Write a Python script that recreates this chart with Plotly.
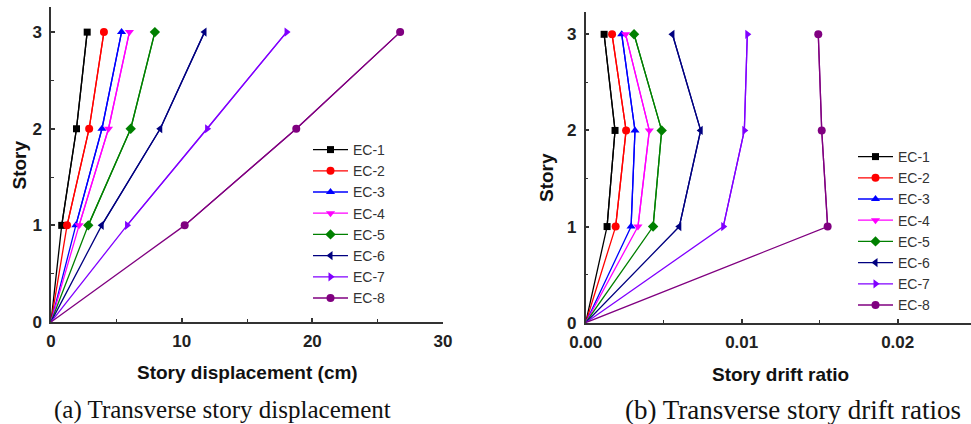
import plotly.graph_objects as go

W, H = 971, 424

stories = [0, 1, 2, 3]
series_names = ["EC-1", "EC-2", "EC-3", "EC-4", "EC-5", "EC-6", "EC-7", "EC-8"]

# (a) story displacement (cm), origin included
disp_ec1 = [0, 0.82, 1.95, 2.77]
disp_ec2 = [0, 1.23, 2.92, 4.05]
disp_ec3 = [0, 1.90, 3.90, 5.40]
disp_ec4 = [0, 2.15, 4.40, 6.00]
disp_ec5 = [0, 2.85, 6.10, 7.95]
disp_ec6 = [0, 3.88, 8.36, 11.75]
disp_ec7 = [0, 5.82, 11.95, 18.03]
disp_ec8 = [0, 10.23, 18.77, 26.72]

# (b) story drift ratio, origin included
drift_ec1 = [0, 0.00137, 0.00188, 0.00118]
drift_ec2 = [0, 0.00192, 0.00259, 0.00169]
drift_ec3 = [0, 0.00291, 0.00316, 0.00231]
drift_ec4 = [0, 0.00335, 0.00408, 0.00256]
drift_ec5 = [0, 0.00432, 0.00487, 0.00310]
drift_ec6 = [0, 0.00600, 0.00737, 0.00556]
drift_ec7 = [0, 0.00882, 0.01017, 0.01036]
drift_ec8 = [0, 0.01551, 0.01513, 0.01491]

disp_all = [disp_ec1, disp_ec2, disp_ec3, disp_ec4, disp_ec5, disp_ec6, disp_ec7, disp_ec8]
drift_all = [drift_ec1, drift_ec2, drift_ec3, drift_ec4, drift_ec5, drift_ec6, drift_ec7, drift_ec8]

colors = ["#000000", "#ff0000", "#0000ff", "#ff00ff", "#008000", "#000080", "#8000ff", "#800080"]
symbols = ["square", "circle", "triangle-up", "triangle-down", "diamond",
           "triangle-left", "triangle-right", "circle"]
msizes = [7, 8, 8, 8, 8, 8, 8, 8]

fig = go.Figure()

def add_series(xs, xa, ya, leg):
    for name, vals, c, s, ms in zip(series_names, xs, colors, symbols, msizes):
        # line from origin (no marker at origin)
        fig.add_trace(go.Scatter(x=vals, y=stories, mode="lines", xaxis=xa, yaxis=ya,
                                 line=dict(color=c, width=1.3), showlegend=False,
                                 hoverinfo="skip", cliponaxis=False))
        fig.add_trace(go.Scatter(x=vals[1:], y=stories[1:], mode="lines+markers", name=name,
                                 xaxis=xa, yaxis=ya, legend=leg,
                                 line=dict(color=c, width=1.3),
                                 marker=dict(symbol=s, size=ms, color=c, line=dict(width=0)),
                                 cliponaxis=False))

add_series(disp_all, "x", "y", "legend")
add_series(drift_all, "x2", "y2", "legend2")

def px_x(p):
    return p / W

def px_y(p):
    return (H - p) / H

tickfont = dict(family="Liberation Sans, Arial, sans-serif", size=17, color="#222", weight="bold")
axis_common = dict(showline=True, linecolor="#333", linewidth=1.5, ticks="inside",
                   ticklen=4, tickwidth=1.5, tickcolor="#333", showgrid=False,
                   zeroline=False, tickfont=tickfont, automargin=False)
minor_common = dict(ticks="inside", ticklen=3, tickcolor="#333", tickwidth=1.2)

fig.update_layout(
    width=W, height=H, margin=dict(l=0, r=0, t=0, b=0, autoexpand=False),
    paper_bgcolor="white", plot_bgcolor="white",
    xaxis=dict(domain=[px_x(51), px_x(443)], range=[0, 30], dtick=10, anchor="y",
               minor=dict(dtick=5, **minor_common), ticklabelstandoff=3, **axis_common),
    yaxis=dict(domain=[px_y(322), px_y(7)], range=[0, 3.26], dtick=1, anchor="x",
               minor=dict(dtick=0.5, **minor_common), ticklabelstandoff=4, **axis_common),
    xaxis2=dict(domain=[px_x(585.7), 1], range=[0, 0.0247], dtick=0.01, tickformat=".2f",
                anchor="y2", minor=dict(dtick=0.005, **minor_common), ticklabelstandoff=3,
                **axis_common),
    yaxis2=dict(domain=[px_y(322.7), px_y(12)], range=[0, 3.232], dtick=1, anchor="x2",
                minor=dict(dtick=0.5, **minor_common), ticklabelstandoff=4, **axis_common),
    legend=dict(x=px_x(308), y=px_y(134), xanchor="left", yanchor="top",
                font=dict(family="Liberation Sans, Arial, sans-serif", size=14, color="#333"),
                bgcolor="rgba(0,0,0,0)", itemwidth=35, tracegroupgap=0),
    legend2=dict(x=px_x(853), y=px_y(141), xanchor="left", yanchor="top",
                 font=dict(family="Liberation Sans, Arial, sans-serif", size=14, color="#333"),
                 bgcolor="rgba(0,0,0,0)", itemwidth=35, tracegroupgap=0),
)

title_font = dict(family="Liberation Sans, Arial, sans-serif", size=19, color="#111")
cap_font_a = dict(family="Liberation Serif, Times New Roman, serif", size=25, color="#111")
cap_font_b = dict(family="Liberation Serif, Times New Roman, serif", size=27, color="#111")

annots = [
    dict(text="<b>Story displacement (cm)</b>", x=px_x(247), y=px_y(372), font=title_font, textangle=0),
    dict(text="<b>Story drift ratio</b>", x=px_x(780), y=px_y(374), font=title_font, textangle=0),
    dict(text="<b>Story</b>", x=px_x(18.5), y=px_y(165), font=title_font, textangle=-90),
    dict(text="<b>Story</b>", x=px_x(547), y=px_y(178), font=title_font, textangle=-90),
    dict(text="(a) Transverse story displacement", x=px_x(222), y=px_y(410), font=cap_font_a, textangle=0),
    dict(text="(b) Transverse story drift ratios", x=px_x(793), y=px_y(410), font=cap_font_b, textangle=0),
]
for a in annots:
    fig.add_annotation(xref="paper", yref="paper", xanchor="center", yanchor="middle",
                       showarrow=False, **a)

fig.write_html("out.html", config={"displayModeBar": False},
               post_script="document.body.style.margin='0';document.body.style.overflow='hidden';")
